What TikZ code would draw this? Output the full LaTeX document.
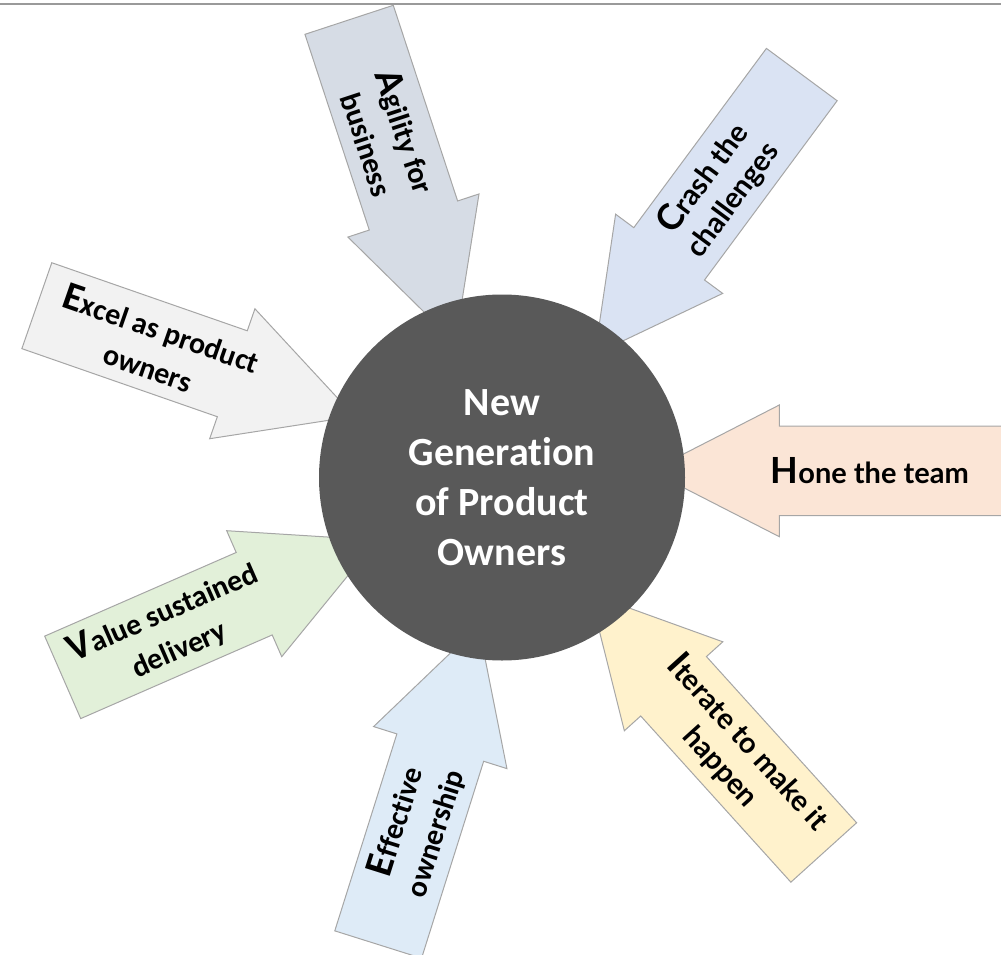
\documentclass[tikz,border=0pt]{standalone}
\usepackage{fontspec}
\setmainfont{Carlito}[Ligatures=NoCommon]
\newfontfamily\humanist{Lato}

\definecolor{edgegrey}{HTML}{A6A6A6}
\definecolor{rulegrey}{HTML}{9A9A9A}
\definecolor{hubgrey}{HTML}{595959}
\definecolor{agilityfill}{HTML}{D6DCE5}
\definecolor{crashfill}{HTML}{DAE3F3}
\definecolor{excelfill}{HTML}{F2F2F2}
\definecolor{honefill}{HTML}{FBE5D6}
\definecolor{valuefill}{HTML}{E2F0D9}
\definecolor{effectivefill}{HTML}{DEEBF7}
\definecolor{iteratefill}{HTML}{FFF2CC}

% enlarged first letter of each label
\newcommand{\capcal}[1]{{\fontsize{40}{40}\selectfont #1}}
\newcommand{\caphum}[1]{{\fontsize{36}{36}\selectfont #1}}

\begin{document}
\begin{tikzpicture}[x=1pt,y=-1pt,
  % block arrow: tip at the origin, pointing along +x
  % args: head length, head half-width, shaft half-width, shaft length, fill
  pics/blockarrow/.style n args={5}{code={
    \filldraw[fill=#5, draw=edgegrey, line width=1pt, line join=miter]
      (0,0) -- (-#1,#2) -- (-#1,#3) -- ({-#1-#4},#3) -- ({-#1-#4},-#3)
      -- (-#1,-#3) -- (-#1,-#2) -- cycle;
  }},
  caltext/.style={text=black, align=center, inner sep=0pt,
    font=\bfseries\fontsize{30}{40}\selectfont},
  humtext/.style={text=black, align=center, inner sep=0pt,
    font=\humanist\bfseries\fontsize{29}{36}\selectfont},
  hubtext/.style={text=white, align=center,
    font=\bfseries\fontsize{40}{50}\selectfont},
  toprule/.style={draw=rulegrey, line width=1.4pt}
]
\useasboundingbox (0,0) rectangle (1001,955);
\clip (0,0) rectangle (1001,955);

\draw[toprule] (0,4) -- (1001,4);

% Agility for business
\begin{scope}[shift={(455.3,342.8)}, rotate=-71.8]
  \pic[transform shape] {blockarrow={134}{69}{46.5}{206}{agilityfill}};
  \node[caltext, rotate=-71.8] (agility) at (-216,0) {\capcal{A}gility for\\business};
\end{scope}

% Crash the challenges
\begin{scope}[shift={(594.8,354.3)}, rotate=-126.5]
  \pic[transform shape] {blockarrow={125}{66.6}{44}{223}{crashfill}};
  \node[humtext, rotate=53.5] (crash) at (-206,0) {\caphum{C}rash the\\challenges};
\end{scope}

% Excel as product owners
\begin{scope}[shift={(354.5,416.3)}, rotate=-19.2]
  \pic[transform shape] {blockarrow={129.4}{68.8}{45.5}{207}{excelfill}};
  \node[caltext, rotate=-19.2] (excel) at (-211,0) {\capcal{E}xcel as product\\owners};
\end{scope}

% Hone the team
\begin{scope}[shift={(650.7,470.85)}, rotate=180]
  \pic[transform shape] {blockarrow={128.6}{65.85}{44.65}{240}{honefill}};
  \node[humtext] (hone) at (-219,0) {\caphum{H}one the team};
\end{scope}

% Value sustained delivery
\begin{scope}[shift={(376.9,540.1)}, rotate=23.6]
  \pic[transform shape] {blockarrow={133.9}{68.75}{45}{209}{valuefill}};
  \node[caltext, rotate=23.6] (value) at (-225,0) {\capcal{V}alue sustained\\delivery};
\end{scope}

% Effective ownership
\begin{scope}[shift={(478.6,626)}, rotate=72.5]
  \pic[transform shape] {blockarrow={127.5}{69.9}{45.5}{206.5}{effectivefill}};
  \node[caltext, rotate=72.5] (effective) at (-211,0) {\capcal{E}ffective\\ownership};
\end{scope}

% Iterate to make it happen
\begin{scope}[shift={(590.1,593.9)}, rotate=132.1]
  \pic[transform shape] {blockarrow={124.5}{66.35}{44.3}{224}{iteratefill}};
  \node[humtext, rotate=-47.9] (iterate) at (-216,0) {\caphum{I}terate to make it\\happen};
\end{scope}

% central hub
\node[circle, fill=hubgrey, minimum size=366pt, inner sep=0pt, hubtext]
  (hub) at (502,477.5) {New\\Generation\\of Product\\Owners};
\end{tikzpicture}
\end{document}
